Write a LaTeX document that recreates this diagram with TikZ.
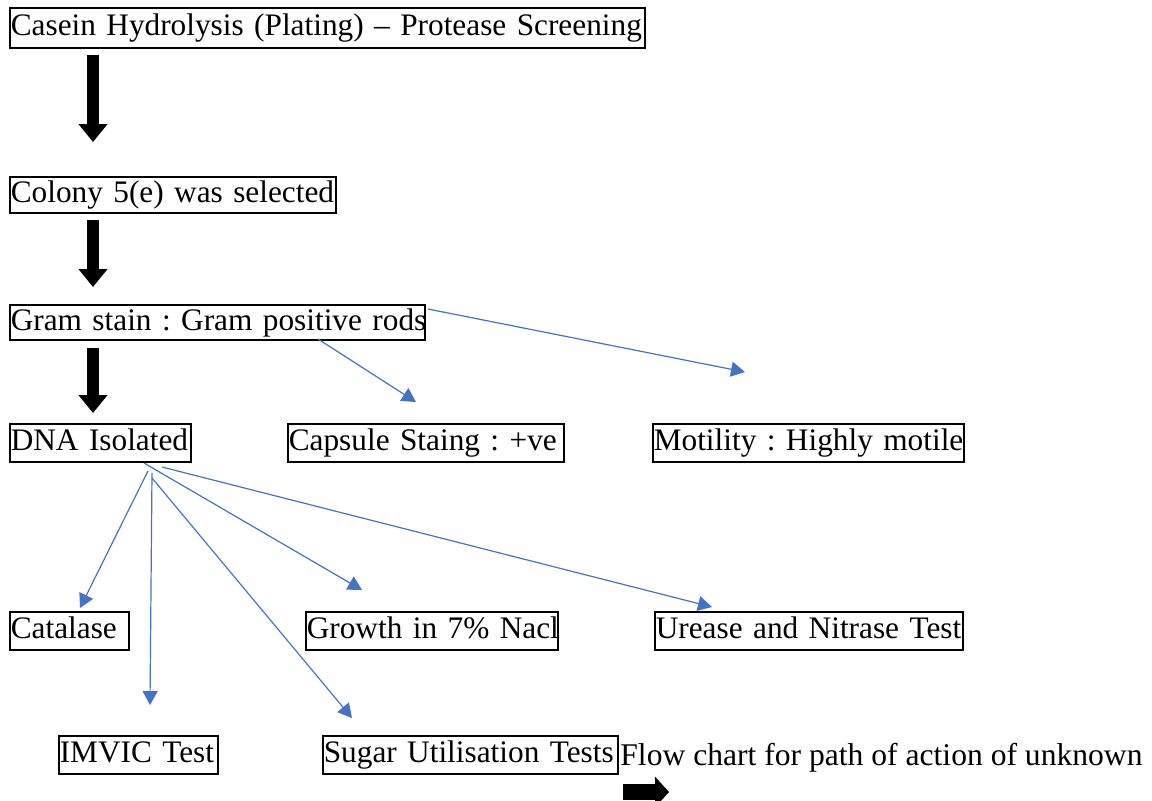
\documentclass[tikz,border=0pt]{standalone}
\usepackage{fontspec}
\setmainfont{Liberation Serif}
\usetikzlibrary{arrows.meta}
\definecolor{lblue}{HTML}{4472C4}
\frenchspacing
\tikzset{
  box/.style={draw, line width=1pt, anchor=north west, inner xsep=0.4pt, inner ysep=0pt,
    align=left, text height=11.3pt, text depth=3.6pt, font=\fontsize{15.65}{19}\selectfont\frenchspacing},
  bigarrow/.style={line width=6pt, -{Triangle[length=9pt,width=14pt]}},
  bluearrow/.style={lblue, line width=0.6pt, -{Triangle[length=7pt,width=7.5pt]}},
  plain/.style={font=\fontsize{15.8}{19}\selectfont\frenchspacing, inner sep=0pt}
}
\begin{document}
\begin{tikzpicture}[x=0.5pt,y=-0.5pt]
\useasboundingbox (0,0) rectangle (1152,800);
\clip (0,0) rectangle (1152,800);
% boxes (px: x1,y1 ; width W -> text width W/2-0.8pt ; height H -> H/2)
\node[box, text width=316.7pt, minimum height=20pt] (casein) at (9,7) {\mbox{Casein Hydrolysis (Plating) -- Protease Screening}};
\node[box, text width=162.2pt, minimum height=18pt] (colony) at (9,176) {\mbox{Colony 5(e) was selected}};
\node[box, text width=206.7pt, minimum height=17.5pt] (gram) at (9,304) {\mbox{Gram stain : Gram positive rods}};
\node[box, text width=89.7pt, minimum height=19pt] (dna) at (9,423) {\mbox{DNA Isolated}};
\node[box, text width=137.2pt, minimum height=19pt] (capsule) at (287,423) {\mbox{Capsule Staing : +ve}};
\node[box, text width=154.7pt, minimum height=19pt] (motility) at (652,423) {\mbox{Motility : Highly motile}};
\node[box, text width=58.7pt, minimum height=19pt] (catalase) at (9,611) {\mbox{Catalase}};
\node[box, text width=125.2pt, minimum height=19pt] (growth) at (305,611) {\mbox{Growth in 7\% Nacl}};
\node[box, text width=153.2pt, minimum height=19pt] (urease) at (654,611) {\mbox{Urease and Nitrase Test}};
\node[box, text width=78.7pt, minimum height=19pt] (imvic) at (58,735) {\mbox{IMVIC Test}};
\node[box, text width=146.7pt, minimum height=19pt] (sugar) at (322,735) {\mbox{Sugar Utilisation Tests}};
\node[plain, anchor=base west] (flow) at (620,765) {Flow chart for path of action of unknown};
% thick black arrows
\coordinate (a1s) at (93,55);  \coordinate (a1e) at (93,142);
\coordinate (a2s) at (93,220); \coordinate (a2e) at (93,287);
\coordinate (a3s) at (93,348); \coordinate (a3e) at (93,413);
\draw[bigarrow] (a1s) -- (a1e);
\draw[bigarrow] (a2s) -- (a2e);
\draw[bigarrow] (a3s) -- (a3e);
\coordinate (a4s) at (623,792); \coordinate (a4e) at (669,792);
\draw[line width=8pt, -{Triangle[length=7pt,width=15pt]}] (a4s) -- (a4e);
% blue arrows
\coordinate (g1) at (318,339); \coordinate (g1e) at (416,402);
\coordinate (g2) at (428,309); \coordinate (g2e) at (745,372);
\draw[bluearrow] (g1) -- (g1e);
\draw[bluearrow] (g2) -- (g2e);
\coordinate (d1) at (148,471); \coordinate (d1e) at (80,608);
\coordinate (d2) at (152,473); \coordinate (d2e) at (150,705);
\coordinate (d3) at (152,478); \coordinate (d3e) at (352,718);
\coordinate (d4) at (144,463); \coordinate (d4e) at (362,590);
\coordinate (d5) at (162,467); \coordinate (d5e) at (712,607);
\draw[bluearrow] (d1) -- (d1e);
\draw[bluearrow] (d2) -- (d2e);
\draw[bluearrow] (d3) -- (d3e);
\draw[bluearrow] (d4) -- (d4e);
\draw[bluearrow] (d5) -- (d5e);
\end{tikzpicture}
\end{document}
